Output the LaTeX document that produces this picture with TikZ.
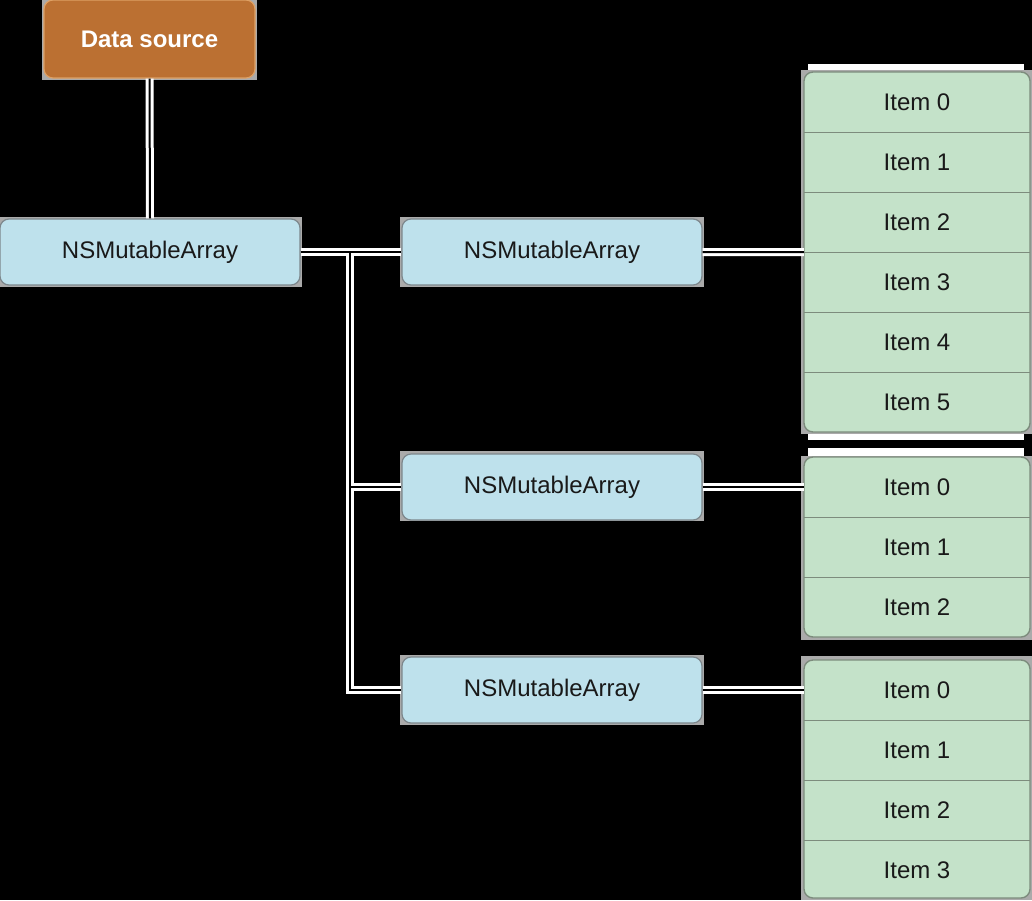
\documentclass[tikz,border=0pt]{standalone}
\usepackage{fontspec}
\setmainfont{Liberation Sans}
\definecolor{dsorange}{RGB}{187,112,50}
\definecolor{dsborder}{RGB}{222,160,100}
\definecolor{arrblue}{RGB}{190,225,236}
\definecolor{arrborder}{RGB}{125,135,140}
\definecolor{itemgreen}{RGB}{196,226,201}
\definecolor{itemborder}{RGB}{125,140,125}
\definecolor{backing}{RGB}{170,170,170}
\tikzset{
  dsbox/.style={draw=dsborder, line width=1.2pt, fill=dsorange, rounded corners=9pt,
    minimum width=211pt, minimum height=78pt, inner sep=0pt, text=white,
    font=\fontsize{24}{28}\selectfont\bfseries},
  arrbox/.style={draw=arrborder, line width=1.2pt, fill=arrblue, rounded corners=9pt,
    minimum width=300pt, minimum height=66pt, inner sep=0pt, text=black!90,
    font=\fontsize{24}{28}\selectfont},
  itembox/.style={minimum width=226pt, minimum height=60pt, inner sep=0pt, text=black!90,
    font=\fontsize{24}{28}\selectfont},
  stackframe/.style={draw=itemborder, line width=1.4pt, fill=itemgreen, rounded corners=9pt},
  sepline/.style={draw=itemborder, line width=1.4pt},
  backrect/.style={fill=backing},
  conout/.style={draw=white, line width=8pt, line join=miter},
  conin/.style={draw=black, line width=2pt, line join=miter},
}
\begin{document}
\begin{tikzpicture}[x=1pt,y=-1pt]
\fill[black] (0,0) rectangle (1032,900);
\useasboundingbox (0,0) rectangle (1032,900);

% backing rectangles (shadow halo)
\fill[backrect] (42,-2) rectangle (257,80);
\fill[backrect] (-2,217) rectangle (302,287);
\fill[backrect] (400,217) rectangle (704,287);
\fill[backrect] (400,451) rectangle (704,521);
\fill[backrect] (400,655) rectangle (704,725);
\fill[white] (808,64) rectangle (1024,440);
\fill[white] (808,448) rectangle (1024,460);
\fill[backrect] (801,70) rectangle (1033,434);
\fill[backrect] (801,456) rectangle (1033,640);
\fill[backrect] (801,656) rectangle (1033,900);

% stack frames
\filldraw[stackframe] (804,72) rectangle (1030,432);
\filldraw[stackframe] (804,457) rectangle (1030,637);
\filldraw[stackframe] (804,660) rectangle (1030,898);

% main nodes
\node[dsbox] (ds) at (149.5,39) {Data source};
\node[arrbox] (a1) at (150,252) {NSMutableArray};
\node[arrbox] (a2) at (552,252) {NSMutableArray};
\node[arrbox] (a3) at (552,487) {NSMutableArray};
\node[arrbox] (a4) at (552,690) {NSMutableArray};

% stack items
\foreach \i in {0,...,5} {
  \node[itembox] (s1i\i) at (917,{102+60*\i}) {Item \i};
}
\foreach \i in {0,...,2} {
  \node[itembox] (s2i\i) at (917,{487+60*\i}) {Item \i};
}
\foreach \i in {0,...,3} {
  \node[itembox] (s3i\i) at (917,{690+60*\i}) {Item \i};
}
% separators
\foreach \i in {0,...,4} { \draw[sepline] (s1i\i.south west) -- (s1i\i.south east); }
\foreach \i in {0,...,1} { \draw[sepline] (s2i\i.south west) -- (s2i\i.south east); }
\foreach \i in {0,...,2} { \draw[sepline] (s3i\i.south west) -- (s3i\i.south east); }

% connectors
\coordinate (t0) at (350,252);
\coordinate (t1) at (350,487);
\coordinate (t2) at (350,690);
\foreach \s in {conout,conin} {
  \draw[\s] (ds.south) -- (a1.north);
  \draw[\s] (a1.east) -- (a2.west);
  \draw[\s] (t0) -- (t2) -- (a4.west);
  \draw[\s] (t1) -- (a3.west);
  \draw[\s] (a2.east) -- (s1i2.south west);
  \draw[\s] (a3.east) -- (s2i0.west);
  \draw[\s] (a4.east) -- (s3i0.west);
}
\end{tikzpicture}
\end{document}
